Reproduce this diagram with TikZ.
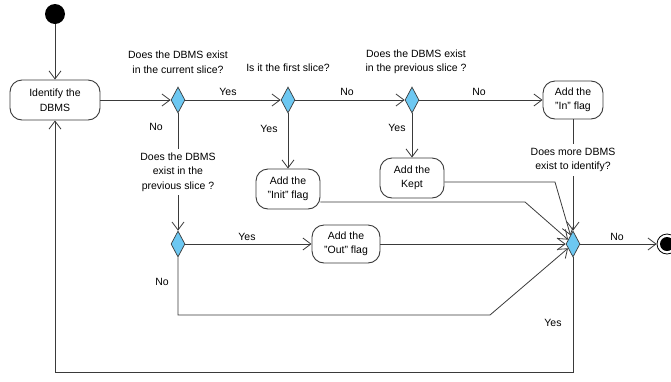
\documentclass[tikz,border=0pt]{standalone}
\usepackage{fontspec}
\setmainfont{Liberation Sans}
\usetikzlibrary{arrows.meta,shapes.geometric}
\definecolor{dia}{HTML}{6DC8F2}
\definecolor{ln}{HTML}{3A3A3A}
\newcommand\dqt{\char"22\relax}
\begin{document}
\begin{tikzpicture}[x=1pt,y=-1pt,
  font=\fontsize{10.5}{14.5}\selectfont,
  act/.style={draw=ln, line width=0.9pt, rounded corners=12pt, fill=white, align=center, inner sep=2pt},
  dec/.style={draw=ln, diamond, fill=dia, minimum width=14pt, minimum height=26pt, inner sep=0pt, line width=0.7pt},
  flow/.style={draw=ln, line width=0.8pt, -{Straight Barb[length=8pt,width=12pt]}},
  lbl/.style={align=center, inner sep=1pt},
  gaplbl/.style={align=center, fill=white, inner xsep=1pt, inner ysep=4pt}]
\useasboundingbox (0,0) rectangle (671,381);
% nodes
\node[circle, fill=black, minimum size=20pt, inner sep=0pt] (start) at (55,14) {};
\node[act, minimum width=90pt, minimum height=40pt] (ident) at (55,100) {Identify the\\DBMS};
\node[dec] (d1) at (178,100) {};
\node[dec] (d2) at (288,100) {};
\node[dec] (d3) at (412,100) {};
\node[act, minimum width=60pt, minimum height=38pt] (inflag) at (573,100) {Add the\\\dqt In\dqt{} flag};
\node[act, minimum width=64pt, minimum height=40pt] (init) at (288,189) {Add the\\\dqt Init\dqt{} flag};
\node[act, minimum width=64pt, minimum height=40pt] (kept) at (412,178) {Add the\\Kept};
\node[dec] (d4) at (178,244) {};
\node[act, minimum width=68pt, minimum height=38pt] (out) at (346,244) {Add the\\\dqt Out\dqt{} flag};
\node[dec] (d5) at (573,244) {};
\node[circle, draw=black, line width=0.8pt, minimum size=20pt, inner sep=0pt] (end) at (667,244) {};
\node[circle, fill=black, minimum size=14pt, inner sep=0pt] (endin) at (end.center) {};
% helper coordinates
\coordinate (keptout) at (kept.east |- 0,182);
\coordinate (keptbend) at (555,182);
\coordinate (initout) at (init.east |- 0,202);
\coordinate (initbend) at (525,202);
\coordinate (d4down) at (178,315);
\coordinate (d4bend) at (490,315);
\coordinate (bl) at (573,372);
\coordinate (br) at (55,372);
% connectors
\draw[flow] (start) -- (ident);
\draw[flow] (ident) -- (d1);
\draw[flow] (d1) -- (d2);
\draw[flow] (d2) -- (d3);
\draw[flow] (d3) -- (inflag);
\draw[flow] (d2) -- (init);
\draw[flow] (d3) -- (kept);
\draw[flow] (d1) -- (d4);
\draw[flow] (d4) -- (out);
\draw[flow] (inflag) -- (d5);
\draw[flow] (keptout) -- (keptbend) -- (d5);
\draw[flow] (initout) -- (initbend) -- (d5);
\draw[flow] (out) -- (d5);
\draw[flow] (d4) -- (d4down) -- (d4bend) -- (d5);
\draw[flow] (d5) -- (end);
\draw[flow] (d5) -- (bl) -- (br) -- (ident);
% labels
\node[lbl] (q1) at (178,62) {Does the DBMS exist\\in the current slice?};
\node[lbl] (q2) at (288,68) {Is it the first slice?};
\node[lbl] (q3) at (416,62) {Does the DBMS exist\\in the previous slice ?};
\node[gaplbl] (q4) at (178,172) {Does the DBMS\\exist in the\\previous slice ?};
\node[gaplbl] (q5) at (573,160) {Does more DBMS\\exist to identify?};
\node[lbl] (l1) at (228,92) {Yes};
\node[lbl] (l2) at (347,92) {No};
\node[lbl] (l3) at (479,92) {No};
\node[lbl] (l4) at (156,127) {No};
\node[lbl] (l5) at (269,129) {Yes};
\node[lbl] (l6) at (397,128) {Yes};
\node[lbl] (l7) at (247,237) {Yes};
\node[lbl] (l8) at (162,282) {No};
\node[lbl] (l9) at (617,237) {No};
\node[lbl] (l10) at (553,323) {Yes};
\end{tikzpicture}
\end{document}
